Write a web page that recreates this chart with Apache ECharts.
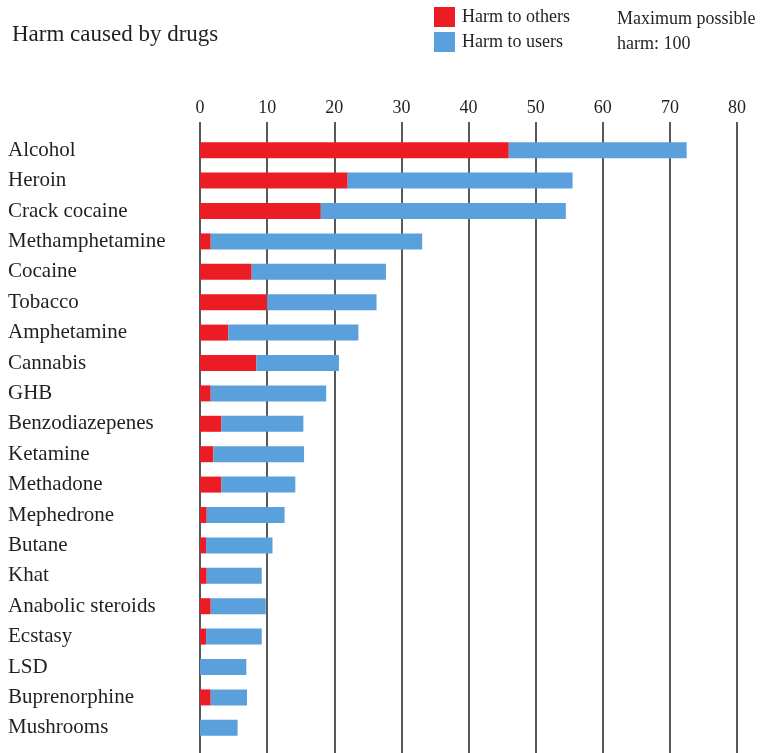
<!DOCTYPE html>
<html>
<head>
<meta charset="utf-8">
<script src="https://cdn.jsdelivr.net/npm/echarts@6/dist/echarts.min.js"></script>
<style>
    html, body { margin: 0; padding: 0; background: #fff; }
    #chart { width: 760px; height: 753px; }
</style>
</head>
<body>
<div id="chart"></div>
<script>
const drugs = ['Alcohol', 'Heroin', 'Crack cocaine', 'Methamphetamine', 'Cocaine', 'Tobacco',
    'Amphetamine', 'Cannabis', 'GHB', 'Benzodiazepenes', 'Ketamine', 'Methadone', 'Mephedrone',
    'Butane', 'Khat', 'Anabolic steroids', 'Ecstasy', 'LSD', 'Buprenorphine', 'Mushrooms']
const harmToOthers = [46, 22, 18, 1.6, 7.7, 10, 4.2, 8.4, 1.6, 3.2, 2, 3.2, 1, 0.9, 1, 1.6, 0.9, 0, 1.6, 0]
const harmToUsers = [26.5, 33.5, 36.5, 31.5, 20, 16.3, 19.4, 12.3, 17.2, 12.2, 13.5, 11, 11.6, 9.9, 8.2, 8.2, 8.3, 6.9, 5.4, 5.6]
const xTicks = [0, 10, 20, 30, 40, 50, 60, 70, 80]

const textColor = '#231f20'
const gridColor = '#58595b'
const serif = '"Liberation Serif", "DejaVu Serif", serif'

const chart = echarts.init(document.getElementById('chart'))
chart.setOption({
    animation: false,
    color: ['#ec1c24', '#5aa0dc'],
    title: [{
        text: 'Harm caused by drugs',
        left: 7,
        top: 18,
        textStyle: { fontFamily: serif, fontSize: 23, fontWeight: 'normal', color: textColor }
    }, {
        text: 'Maximum possible\nharm: 100',
        left: 612,
        top: 2,
        textStyle: { fontFamily: serif, fontSize: 18, fontWeight: 'normal', color: textColor, lineHeight: 25 }
    }],
    legend: {
        orient: 'vertical',
        left: 429,
        top: 2,
        itemWidth: 21,
        itemHeight: 20,
        itemGap: 5,
        icon: 'rect',
        textStyle: { fontFamily: serif, fontSize: 18, color: textColor, padding: [0, 0, 0, 2] },
        data: ['Harm to others', 'Harm to users']
    },
    grid: { left: 200, right: 23, top: 135, bottom: 10 },
    xAxis: [{
        type: 'value',
        position: 'top',
        min: 0,
        max: 80,
        interval: 10,
        axisLine: { show: false },
        axisTick: { show: true, length: 13, lineStyle: { color: gridColor, width: 2 } },
        axisLabel: {
            margin: 18,
            fontFamily: serif,
            fontSize: 18,
            color: textColor,
            formatter: v => xTicks.includes(v) ? String(v) : ''
        },
        splitLine: { show: true, lineStyle: { color: gridColor, width: 2 } }
    }, {
        type: 'value',
        position: 'bottom',
        min: 0,
        max: 80,
        interval: 10,
        axisLine: { show: false },
        axisTick: { show: true, length: 10, lineStyle: { color: gridColor, width: 2 } },
        axisLabel: { show: false },
        splitLine: { show: false }
    }],
    yAxis: {
        type: 'category',
        inverse: true,
        data: drugs,
        axisLine: { show: false },
        axisTick: { show: false },
        axisLabel: {
            align: 'left',
            margin: 192,
            fontFamily: serif,
            fontSize: 21,
            color: textColor
        }
    },
    series: [{
        name: 'Harm to others',
        type: 'bar',
        stack: 'harm',
        barWidth: 16,
        data: harmToOthers
    }, {
        name: 'Harm to users',
        type: 'bar',
        stack: 'harm',
        barWidth: 16,
        data: harmToUsers
    }]
})
</script>
</body>
</html>
